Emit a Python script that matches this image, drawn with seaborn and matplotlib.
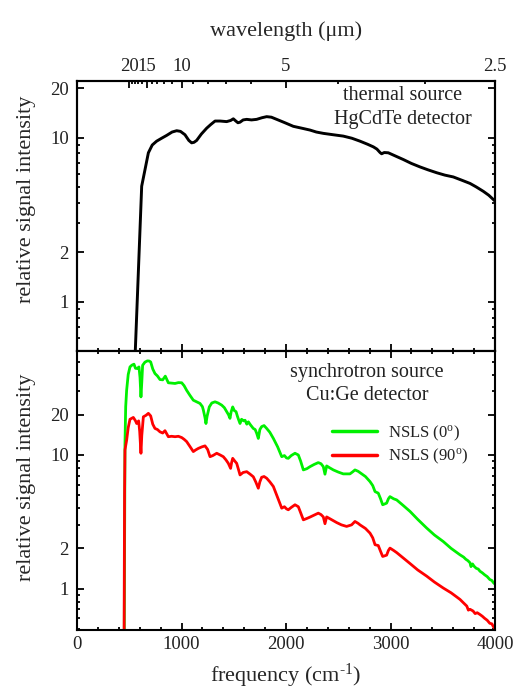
import matplotlib
matplotlib.use("Agg")
import matplotlib.pyplot as plt
import numpy as np
import pandas as pd
import seaborn as sns
from matplotlib.ticker import FixedLocator, FixedFormatter, MultipleLocator, LogLocator, NullFormatter

# ---------------- data ----------------
thermal_freq = [555, 619, 683, 720, 762, 810, 858, 910, 954, 990, 1033, 1070, 1097, 1120, 1145,
                1190, 1241, 1280, 1321, 1370, 1432, 1470, 1496, 1520, 1540, 1560, 1590, 1624,
                1670, 1719, 1770, 1815, 1860, 1911, 1990, 2070, 2150, 2230, 2290, 2357, 2450,
                2548, 2630, 2708, 2780, 2836, 2870, 2900, 2915, 2940, 2979, 3050, 3123, 3200,
                3282, 3360, 3442, 3520, 3601, 3680, 3761, 3820, 3888, 3940, 3984, 4000]
thermal_int = [0.45, 5.05, 8.07, 9.0, 9.5, 9.9, 10.3, 10.8, 11.0, 10.9, 10.4, 9.6, 9.28, 9.35, 9.6,
               10.5, 11.4, 12.0, 12.6, 12.6, 12.5, 12.7, 13.0, 12.6, 12.3, 12.4, 12.8, 12.9,
               12.8, 12.9, 13.2, 13.4, 13.3, 12.9, 12.3, 11.7, 11.4, 11.1, 10.8, 10.6, 10.4,
               10.2, 9.9, 9.5, 9.1, 8.77, 8.5, 8.1, 7.96, 8.1, 8.07, 7.7, 7.34, 6.95,
               6.62, 6.35, 6.10, 5.9, 5.75, 5.5, 5.25, 5.0, 4.70, 4.45, 4.19, 4.1]

nsls0_freq = [452, 459, 466, 475, 490, 507, 525, 545, 560, 577, 593, 603, 612, 620, 628, 650, 673,
              690, 705, 725, 746, 770, 794, 820, 845, 874, 905, 938, 970, 1002, 1025, 1049, 1080,
              1113, 1145, 1177, 1200, 1209, 1225, 1234, 1245, 1266, 1290, 1321, 1350, 1385, 1410,
              1432, 1450, 1464, 1475, 1490, 1505, 1522, 1535, 1545, 1560, 1575, 1595, 1608, 1625,
              1640, 1660, 1687, 1705, 1720, 1735, 1750, 1767, 1790, 1815, 1845, 1879, 1920, 1959,
              1985, 2005, 2022, 2050, 2086, 2118, 2140, 2166, 2200, 2230, 2270, 2309, 2335, 2357,
              2373, 2389, 2420, 2453, 2500, 2548, 2612, 2640, 2660, 2690, 2708, 2760, 2804, 2830,
              2852, 2883, 2905, 2925, 2945, 2963, 2980, 2995, 3030, 3059, 3120, 3187, 3260, 3346,
              3420, 3505, 3580, 3640, 3665, 3700, 3720, 3740, 3761, 3770, 3785, 3800, 3820, 3840,
              3856, 3880, 3900, 3925, 3950, 3970, 3984, 4000]
nsls0_int = [0.4, 12, 23, 30.5, 40, 45.6, 47, 47.8, 44.5, 44.4, 45.6, 38, 27.2, 35, 46.9, 49.5, 50.6,
             50.5, 49.7, 44, 40.7, 39, 36.7, 36.5, 38.9, 34.7, 34.5, 34.3, 34.8, 34.7, 33, 30.5, 28,
             25.7, 25, 24.3, 23, 21.7, 19, 17.2, 19.5, 22.9, 24.5, 25.0, 24.5, 23.6, 22.6,
             21.1, 20, 18.8, 21, 22.9, 21.5, 21.1, 19.5, 18.5, 17.2, 18.5, 18.0, 18.2, 17,
             17.7, 16.8, 15.8, 15.5, 14.5, 13.3, 15.5, 16.3, 16.6, 15.8, 14.8, 13.3, 11.5, 9.71,
             9.9, 9.5, 9.44, 9.9, 10.3, 10.0, 9.0, 7.73, 7.9, 8.18, 8.5, 8.77, 8.6, 8.18,
             7.18, 8.28, 8.0, 7.73, 7.45, 7.22, 7.22, 7.5, 7.73, 7.55, 7.38, 6.9, 6.32, 5.9,
             5.32, 5.18, 4.7, 4.24, 4.3, 4.36, 4.7, 4.88, 4.7, 4.61, 4.2, 3.78, 3.3, 2.84,
             2.52, 2.25, 2.0, 1.85, 1.79, 1.72, 1.66, 1.62, 1.56, 1.46, 1.53, 1.47, 1.42, 1.40,
             1.35, 1.31, 1.27, 1.23, 1.17, 1.15, 1.11, 1.08]

nsls90_freq = [450, 455, 459, 475, 490, 507, 539, 560, 571, 590, 600, 612, 620, 635, 660, 683, 705,
               725, 746, 770, 794, 820, 842, 874, 905, 938, 970, 1002, 1025, 1049, 1080, 1113,
               1135, 1161, 1195, 1225, 1250, 1273, 1300, 1337, 1370, 1400, 1425, 1448, 1470, 1480,
               1490, 1510, 1528, 1545, 1560, 1590, 1624, 1655, 1687, 1710, 1735, 1750, 1767, 1790,
               1815, 1845, 1879, 1920, 1959, 1985, 2005, 2022, 2050, 2086, 2118, 2140, 2166, 2200,
               2230, 2270, 2309, 2335, 2357, 2373, 2389, 2430, 2485, 2530, 2580, 2628, 2660, 2690,
               2708, 2760, 2804, 2830, 2852, 2883, 2905, 2925, 2945, 2963, 2980, 2995, 3030, 3059,
               3120, 3187, 3260, 3346, 3420, 3505, 3580, 3630, 3665, 3700, 3730, 3745, 3761, 3790,
               3810, 3830, 3856, 3880, 3900, 3925, 3950, 3970, 3984, 4000]
nsls90_int = [0.3, 5, 10.9, 12.9, 16, 18.5, 19.1, 18.0, 17.2, 18.0, 15, 10.3, 14, 19.3, 19.8, 20.5, 19.6,
              17, 15.8, 15.5, 14.9, 14.6, 15.2, 13.7, 13.8, 13.7, 13.8, 13.5, 13.1, 12.6, 11.6, 10.6,
              10.9, 11.2, 11.5, 11.7, 11.0, 9.71, 9.9, 10.3, 10.0, 9.71, 9.2, 8.66, 7.94, 8.8,
              9.44, 9.0, 8.66, 7.8, 7.09, 7.4, 7.5, 7.2, 6.87, 6.3, 5.64, 6.3, 6.81, 6.9,
              6.7, 6.3, 5.81, 4.8, 4.0, 4.1, 3.95, 3.89, 4.05, 4.24, 4.1, 3.7, 3.27, 3.35,
              3.43, 3.55, 3.67, 3.58, 3.44, 3.06, 3.44, 3.3, 3.12, 3.0, 2.92, 3.0, 3.18, 3.08,
              3.0, 2.82, 2.6, 2.4, 2.13, 2.1, 1.9, 1.74, 1.76, 1.78, 1.93, 2.01, 1.93, 1.86,
              1.7, 1.54, 1.38, 1.24, 1.12, 1.01, 0.93, 0.87, 0.83, 0.78, 0.74, 0.69, 0.70, 0.68,
              0.65, 0.66, 0.64, 0.62, 0.60, 0.58, 0.55, 0.545, 0.52, 0.50]

ytick_vals = [1, 2, 10, 20]
ytick_labels = ["1", "2", "10", "20"]
xtick_vals = [0, 1000, 2000, 3000, 4000]
xtick_labels = ["0", "1000", "2000", "3000", "4000"]
wl_major = [20, 15, 10, 5, 2.5]
wl_major_labels = ["20", "15", "10", "5", "2.5"]
wl_minor = [19, 18, 17, 16, 14, 13, 12, 11, 9, 8, 7, 6, 4, 3]

series_labels = ["NSLS (0$^{\\mathrm{o}}$)", "NSLS (90$^{\\mathrm{o}}$)"]
series_colors = ["#00f000", "#ff0000"]

# ---------------- style ----------------
sns.set_style("ticks")
plt.rcParams["font.family"] = ["Liberation Serif", "DejaVu Serif"]
plt.rcParams["mathtext.fontset"] = "custom"
plt.rcParams["mathtext.rm"] = "Liberation Serif"
plt.rcParams["mathtext.it"] = "Liberation Serif:italic"
plt.rcParams["axes.linewidth"] = 1.5
plt.rcParams["axes.edgecolor"] = "black"
plt.rcParams["text.color"] = "#222222"
plt.rcParams["xtick.color"] = "black"
plt.rcParams["ytick.color"] = "black"
plt.rcParams["xtick.labelcolor"] = "#222222"
plt.rcParams["ytick.labelcolor"] = "#222222"

TICK_FS = 13.5
LABEL_FS = 16
ANN_FS = 14.5
LEG_FS = 12

fig = plt.figure(figsize=(5.14, 6.90), dpi=100)
gs = fig.add_gridspec(2, 1, height_ratios=[270, 279], hspace=0,
                      left=77 / 514, right=495 / 514, top=1 - 81 / 690, bottom=1 - 630 / 690)
ax_top = fig.add_subplot(gs[0])
ax_bot = fig.add_subplot(gs[1], sharex=ax_top)

df_th = pd.DataFrame({"freq": thermal_freq, "intensity": thermal_int})
sns.lineplot(data=df_th, x="freq", y="intensity", ax=ax_top, color="black", lw=2.1,
             estimator=None, sort=False)

df_0 = pd.DataFrame({"freq": nsls0_freq, "intensity": nsls0_int})
df_90 = pd.DataFrame({"freq": nsls90_freq, "intensity": nsls90_int})
sns.lineplot(data=df_0, x="freq", y="intensity", ax=ax_bot, color=series_colors[0], lw=2.0,
             estimator=None, sort=False, label=series_labels[0])
sns.lineplot(data=df_90, x="freq", y="intensity", ax=ax_bot, color=series_colors[1], lw=2.0,
             estimator=None, sort=False, label=series_labels[1])

for ax, ylim in ((ax_top, (0.5, 22.1)), (ax_bot, (0.49, 60))):
    ax.set_yscale("log")
    ax.set_ylim(*ylim)
    ax.set_xlim(0, 4000)
    ax.yaxis.set_major_locator(FixedLocator(ytick_vals))
    ax.yaxis.set_major_formatter(FixedFormatter(ytick_labels))
    ax.yaxis.set_minor_locator(LogLocator(base=10, subs=np.arange(2, 10)))
    ax.yaxis.set_minor_formatter(NullFormatter())
    ax.xaxis.set_major_locator(FixedLocator(xtick_vals))
    ax.xaxis.set_minor_locator(MultipleLocator(200))
    ax.tick_params(which="both", direction="in", left=True, right=True, bottom=True,
                   labelsize=TICK_FS, width=1.3)
    ax.tick_params(which="major", length=5)
    ax.tick_params(which="minor", length=2.5)
    ax.tick_params(axis="y", which="both", pad=6)
    ax.set_ylabel("relative signal intensity", fontsize=LABEL_FS)
    for s in ax.spines.values():
        s.set_linewidth(1.5)

ax_top.yaxis.set_label_coords(-0.098, 0.563)
ax_bot.yaxis.set_label_coords(-0.098, 0.548)

ax_top.tick_params(which="both", top=False, labelbottom=False)
ax_bot.tick_params(which="both", top=True)
ax_bot.tick_params(axis="x", which="both", pad=4.5)
ax_bot.xaxis.set_major_formatter(FixedFormatter(xtick_labels))
ax_top.set_xlabel("")
ax_bot.set_xlabel("frequency (cm$^{\\text{-1}}$)", fontsize=LABEL_FS, labelpad=6.5)

# wavelength axis on top
ax_w = ax_top.twiny()
ax_w.set_xlim(0, 4000)
ax_w.xaxis.set_major_locator(FixedLocator([1e4 / w for w in wl_major]))
ax_w.xaxis.set_major_formatter(FixedFormatter(wl_major_labels))
ax_w.xaxis.set_minor_locator(FixedLocator([1e4 / w for w in wl_minor]))
ax_w.tick_params(which="both", direction="in", labelsize=TICK_FS, width=1.3, pad=4.5)
ax_w.tick_params(which="major", length=5)
ax_w.tick_params(which="minor", length=2.5)
ax_w.set_xlabel("wavelength (μm)", fontsize=LABEL_FS, labelpad=16)
for s in ax_w.spines.values():
    s.set_linewidth(1.5)

# annotations
ax_top.text(0.78, 0.945, "thermal source", transform=ax_top.transAxes, ha="center", va="center",
            fontsize=ANN_FS)
ax_top.text(0.78, 0.856, "HgCdTe detector", transform=ax_top.transAxes, ha="center", va="center",
            fontsize=ANN_FS)
ax_bot.text(0.694, 0.922, "synchrotron source", transform=ax_bot.transAxes, ha="center",
            va="center", fontsize=ANN_FS)
ax_bot.text(0.694, 0.839, "Cu:Ge detector", transform=ax_bot.transAxes, ha="center",
            va="center", fontsize=ANN_FS)

leg = ax_bot.legend(loc="upper left", bbox_to_anchor=(0.61, 0.74), frameon=False,
                    fontsize=LEG_FS, handlelength=2.7, handletextpad=0.65, labelspacing=0.25,
                    borderpad=0, borderaxespad=0)
for line in leg.get_lines():
    line.set_linewidth(2.5)

fig.savefig("out.png", dpi=100)
